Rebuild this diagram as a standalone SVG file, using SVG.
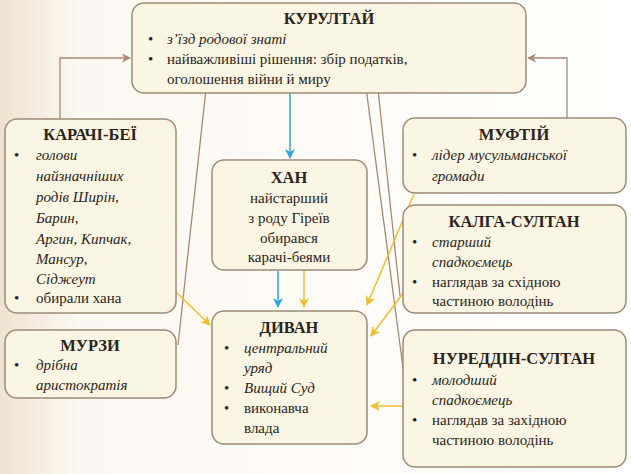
<svg xmlns="http://www.w3.org/2000/svg" width="631" height="474" viewBox="0 0 631 474" font-family="Liberation Serif, DejaVu Serif, serif">
<defs>
<linearGradient id="bg" x1="0" x2="1" y1="0" y2="0"><stop offset="0" stop-color="#efe3cf"/><stop offset="0.12" stop-color="#fbf8f0"/><stop offset="1" stop-color="#ffffff"/></linearGradient>
<marker id="ab" viewBox="0 0 10 10" refX="9" refY="5" markerWidth="9" markerHeight="9" markerUnits="userSpaceOnUse" orient="auto"><path d="M0,0L10,5L0,10L3,5z" fill="#a88a72"/></marker>
<marker id="ay" viewBox="0 0 10 10" refX="9" refY="5" markerWidth="10" markerHeight="10" markerUnits="userSpaceOnUse" orient="auto"><path d="M0,0L10,5L0,10L3,5z" fill="#efbf2e"/></marker>
<marker id="ac" viewBox="0 0 10 10" refX="9" refY="5" markerWidth="10" markerHeight="10" markerUnits="userSpaceOnUse" orient="auto"><path d="M0,0L10,5L0,10L3,5z" fill="#2ea6d8"/></marker>
</defs>
<style>
.box{fill:#fbf6e3;stroke:#9c8c76;stroke-width:1.5}
text{font-family:'Liberation Serif','DejaVu Serif',serif;font-size:15px;fill:#2a2420}
.t{font-weight:bold;font-size:16.5px}
.i{font-style:italic}
.b{stroke:#a88a72;stroke-width:1.3;fill:none}
.y{stroke:#efbf2e;stroke-width:1.5;fill:none}
.c{stroke:#2ea6d8;stroke-width:1.5;fill:none}
</style>
<rect width="631" height="474" fill="url(#bg)"/>
<g id="connectors">
<path class="b" d="M60,119V58H130" marker-end="url(#ab)"/>
<path class="b" d="M567,118V58H528" marker-end="url(#ab)"/>
<path class="b" d="M178,345L207,80" marker-end="url(#ab)"/>
<path class="b" d="M407,398L365,80" marker-end="url(#ab)"/>
<path class="b" d="M400,296L377,80" marker-end="url(#ab)"/>
<path class="c" d="M290,93V158" marker-end="url(#ac)"/>
<path class="c" d="M278,271V307" marker-end="url(#ac)"/>
<path class="y" d="M304,271V307" marker-end="url(#ay)"/>
<path class="y" d="M176,292L210,325" marker-end="url(#ay)"/>
<path class="y" d="M414,194L367,305" marker-end="url(#ay)"/>
<path class="y" d="M404,292L371,336" marker-end="url(#ay)"/>
<path class="y" d="M404,406L371,406" marker-end="url(#ay)"/>
</g>
<g id="kurultai"><rect class="box" x="132" y="3" width="394" height="90" rx="12"/>
<text class="t" x="329" y="24" text-anchor="middle">КУРУЛТАЙ</text>
<text x="148" y="44">•</text><text class="i" x="167" y="44">з’їзд родової знаті</text>
<text x="148" y="64">•</text><text x="167" y="64">найважливіші рішення: збір податків,</text>
<text x="167" y="84">оголошення війни й миру</text></g>
<g id="karachi"><rect class="box" x="5" y="119" width="171" height="194" rx="12"/>
<text class="t" x="90" y="140" text-anchor="middle">КАРАЧІ-БЕЇ</text>
<text x="14" y="160">•</text><text class="i" x="36" y="160">голови</text>
<text class="i" x="36" y="181">найзначніших</text>
<text class="i" x="36" y="202">родів Ширін,</text>
<text class="i" x="36" y="223">Барин,</text>
<text class="i" x="36" y="244">Аргин, Кипчак,</text>
<text class="i" x="36" y="264">Мансур,</text>
<text class="i" x="36" y="284">Сіджеут</text>
<text x="14" y="303">•</text><text x="36" y="303">обирали хана</text></g>
<g id="khan"><rect class="box" x="212" y="160" width="155" height="110" rx="12"/>
<text class="t" x="289" y="183" text-anchor="middle">ХАН</text>
<text x="289" y="203" text-anchor="middle">найстарший</text>
<text x="289" y="223" text-anchor="middle">з роду Гіреїв</text>
<text x="289" y="243" text-anchor="middle">обирався</text>
<text x="289" y="262" text-anchor="middle">карачі-беями</text></g>
<g id="muftii"><rect class="box" x="403" y="118" width="223" height="75" rx="12"/>
<text class="t" x="514" y="140" text-anchor="middle">МУФТІЙ</text>
<text x="412" y="160">•</text><text class="i" x="432" y="160">лідер мусульманської</text>
<text class="i" x="432" y="181">громади</text></g>
<g id="kalga"><rect class="box" x="403" y="205" width="223" height="108" rx="12"/>
<text class="t" x="514" y="227" text-anchor="middle">КАЛГА-СУЛТАН</text>
<text x="412" y="247">•</text><text class="i" x="432" y="247">старший</text>
<text class="i" x="432" y="267">спадкоємець</text>
<text x="412" y="287">•</text><text x="432" y="287">наглядав за східною</text>
<text x="432" y="306">частиною володінь</text></g>
<g id="murzy"><rect class="box" x="5" y="330" width="171" height="68" rx="12"/>
<text class="t" x="90" y="351" text-anchor="middle">МУРЗИ</text>
<text x="14" y="370">•</text><text class="i" x="36" y="370">дрібна</text>
<text class="i" x="36" y="390">аристократія</text></g>
<g id="dyvan"><rect class="box" x="212" y="311" width="155" height="133" rx="12"/>
<text class="t" x="289" y="333" text-anchor="middle">ДИВАН</text>
<text x="224" y="353">•</text><text class="i" x="244" y="353">центральний</text>
<text class="i" x="244" y="373">уряд</text>
<text x="224" y="393">•</text><text class="i" x="244" y="393">Вищий Суд</text>
<text x="224" y="413">•</text><text x="244" y="413">виконавча</text>
<text x="244" y="433">влада</text></g>
<g id="nureddin"><rect class="box" x="403" y="330" width="223" height="137" rx="12"/>
<text class="t" x="514" y="364" text-anchor="middle">НУРЕДДІН-СУЛТАН</text>
<text x="412" y="385">•</text><text class="i" x="432" y="385">молодший</text>
<text class="i" x="432" y="405">спадкоємець</text>
<text x="412" y="425">•</text><text x="432" y="425">наглядав за західною</text>
<text x="432" y="445">частиною володінь</text></g>
</svg>
